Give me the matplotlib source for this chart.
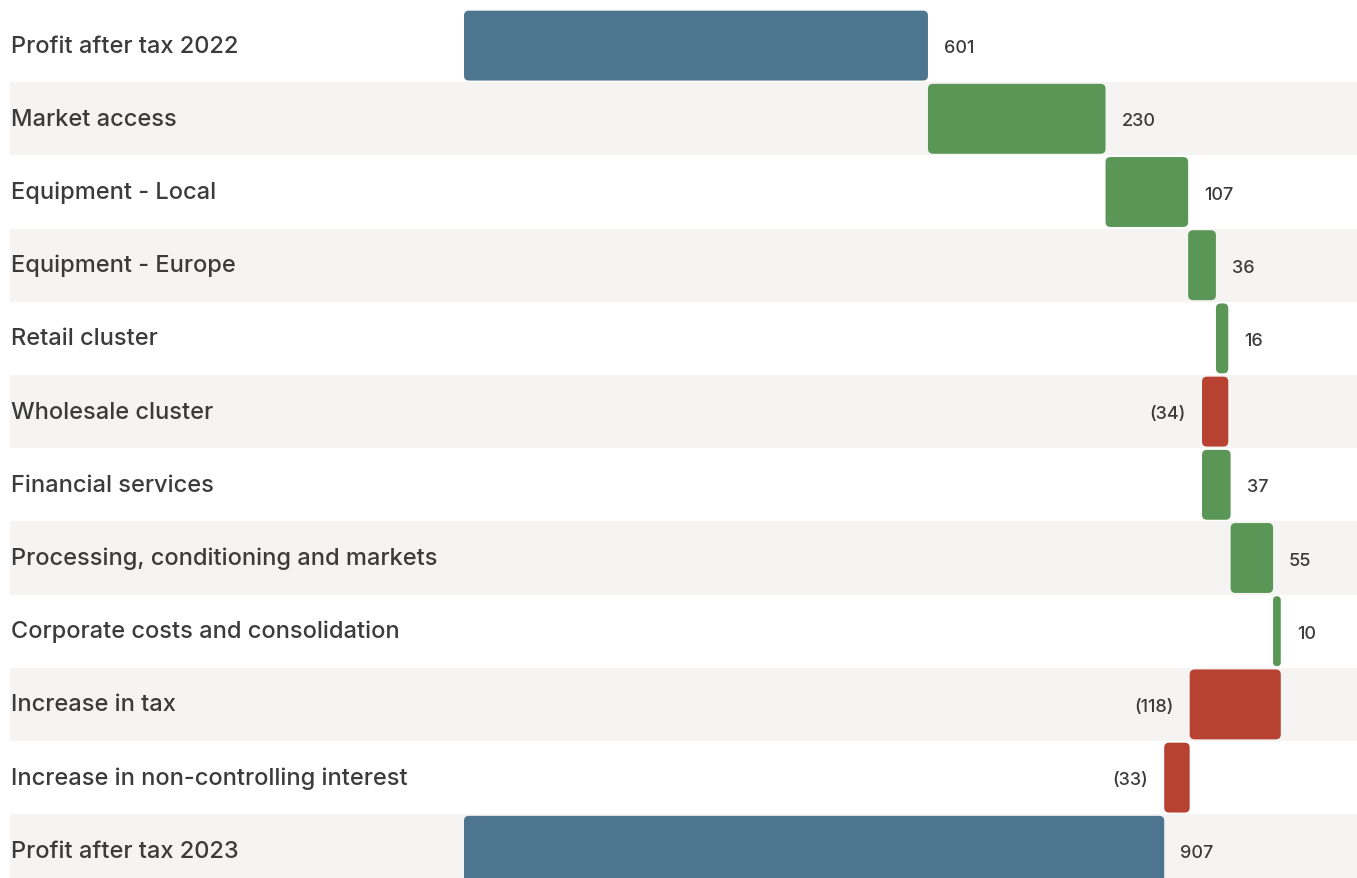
import matplotlib.pyplot as plt
from matplotlib.patches import FancyBboxPatch, Rectangle
import numpy as np

# Profit bridge 2022 -> 2023
categories = [
    'Profit after tax 2022',
    'Market access',
    'Equipment - Local',
    'Equipment - Europe',
    'Retail cluster',
    'Wholesale cluster',
    'Financial services',
    'Processing, conditioning and markets',
    'Corporate costs and consolidation',
    'Increase in tax',
    'Increase in non-controlling interest',
    'Profit after tax 2023',
]
start_total = 601
changes = [230, 107, 36, 16, -34, 37, 55, 10, -118, -33]
end_total = 907

blue = '#4d7590'
green = '#5a9757'
red = '#b84232'
band = '#f5f4f2'
text_col = '#3b3b3b'

plt.rcParams['font.family'] = ['Inter', 'DejaVu Sans']

# build waterfall geometry
lefts, widths, colors, labels, label_x, label_ha = [], [], [], [], [], []
lefts.append(0); widths.append(start_total); colors.append(blue)
labels.append(str(start_total)); label_x.append(start_total); label_ha.append('left')
running = start_total
for c in changes:
    if c >= 0:
        lefts.append(running); widths.append(c); colors.append(green)
        labels.append(str(c)); label_x.append(running + c); label_ha.append('left')
    else:
        lefts.append(running + c); widths.append(-c); colors.append(red)
        labels.append('(%d)' % -c); label_x.append(running + c); label_ha.append('right')
    running += c
lefts.append(0); widths.append(end_total); colors.append(blue)
labels.append(str(end_total)); label_x.append(end_total); label_ha.append('left')

W, H = 1357, 879
fig = plt.figure(figsize=(W / 100, H / 100), dpi=100)
ax = fig.add_axes([0, 0, 1, 1])

px_per_x = 0.772
x0_px = 464
row_px = 73.2
top_px = 10
xmin = -x0_px / px_per_x
xmax = (W - x0_px) / px_per_x
ytop = -0.5 - top_px / row_px
ybot = ytop + H / row_px
ax.set_xlim(xmin, xmax)
ax.set_ylim(ybot, ytop)
ax.axis('off')

# alternating background bands
band_left = xmin + 10 / px_per_x
for i in range(len(categories)):
    if i % 2 == 1:
        ax.add_patch(Rectangle((band_left, i - 0.5), xmax - band_left, 1,
                               facecolor=band, edgecolor='none', zorder=0))

bar_h = 0.955
aspect = px_per_x / row_px  # y units per x unit, for round corners
r_px = 5
for i, (l, w, col) in enumerate(zip(lefts, widths, colors)):
    r = min(r_px / px_per_x, w / 2)
    p = FancyBboxPatch((l, i - bar_h / 2), w, bar_h,
                       boxstyle='round,pad=0,rounding_size=%f' % r,
                       mutation_aspect=aspect,
                       facecolor=col, edgecolor='none', zorder=2)
    ax.add_patch(p)

gap = 16 / px_per_x
for i, (lx, ha, txt) in enumerate(zip(label_x, label_ha, labels)):
    x = lx + gap if ha == 'left' else lx - gap
    ax.text(x, i + 0.03, txt, ha=ha, va='center', fontsize=13,
            fontweight='medium', color=text_col, zorder=3)

for i, cat in enumerate(categories):
    ax.text(xmin + 11 / px_per_x, i, cat, ha='left', va='center', fontsize=17,
            fontweight='medium', color=text_col, zorder=3)

fig.savefig('out.png', dpi=100, facecolor='white')
